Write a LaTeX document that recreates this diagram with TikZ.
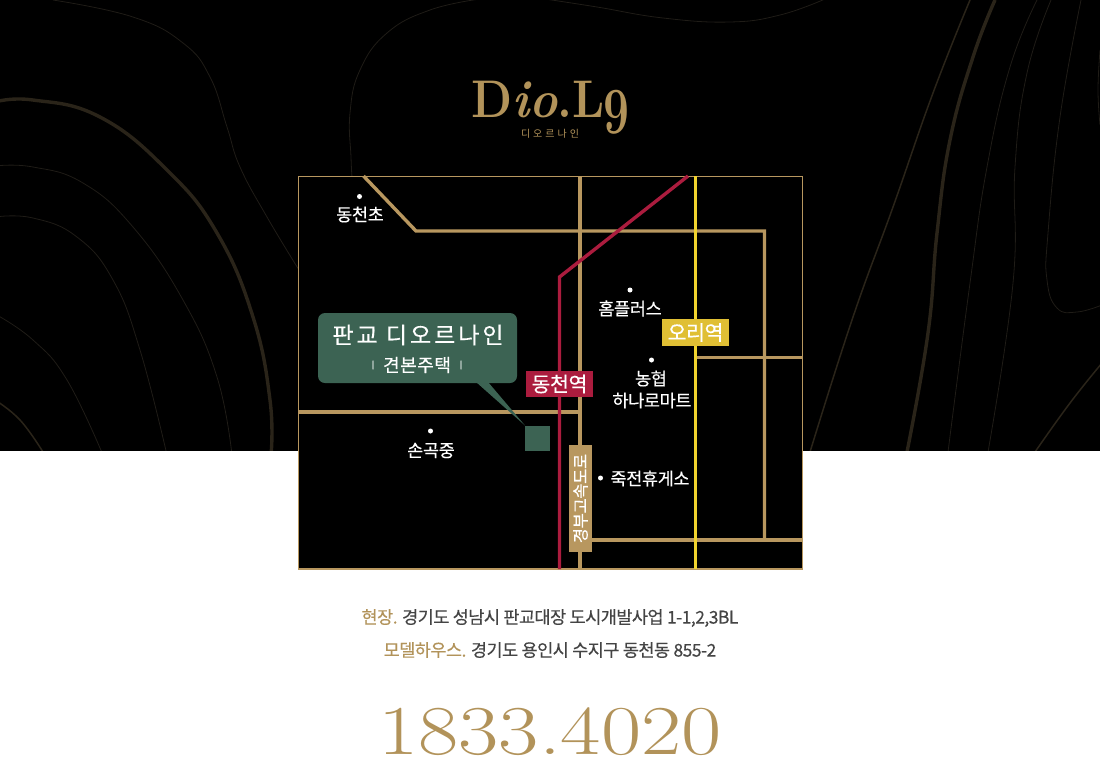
\documentclass[tikz,border=0pt]{standalone}
\usepackage{fontspec}
\usepackage{xcolor}
\usetikzlibrary{calc,positioning}
\newfontfamily\krfont[FakeBold=0.35]{Noto Sans CJK KR}
\newfontfamily\krwide[LetterSpace=13,FakeBold=0.3]{Noto Sans CJK KR}
\newfontfamily\krlogo[LetterSpace=30]{Noto Sans CJK KR}
\newfontfamily\krtight[LetterSpace=-2,FakeBold=0.35]{Noto Sans CJK KR}
\newfontfamily\kraddr[LetterSpace=-3,FakeBold=0.3]{Noto Sans CJK KR}
\definecolor{goldRoad}{HTML}{B8975F}
\definecolor{goldText}{HTML}{B2935A}
\definecolor{lineRed}{HTML}{AB1C3E}
\definecolor{lineYellow}{HTML}{F0D32E}
\definecolor{labelYellow}{HTML}{E0BF34}
\definecolor{siteGreen}{HTML}{3C6353}
\definecolor{contourDark}{HTML}{2A2419}
\definecolor{contourThin}{HTML}{1F1C17}
\definecolor{bodyGray}{HTML}{444444}
\tikzset{
  road/.style={goldRoad, line width=3.4pt},
  contour/.style={contourThin, line width=0.8pt, smooth, tension=0.75},
  contourwide/.style={contourDark, line width=3.4pt, smooth, tension=0.75},
  contourmid/.style={contourDark, line width=1.5pt, smooth, tension=0.75},
  poi/.style={text=white, font=\krtight\fontsize{17.5}{21}\selectfont, inner sep=0pt},
  dot/.style={circle, fill=white, inner sep=0pt, minimum size=5pt},
  stationbox/.style={text=white, font=\krtight\fontsize{20.5}{24}\selectfont, inner sep=0pt, minimum height=26.5pt},
  addr/.style={inner sep=0pt, font=\kraddr\fontsize{17.5}{21}\selectfont}
}
\begin{document}
\begin{tikzpicture}[x=1pt,y=-1pt]
    \useasboundingbox (0,0) rectangle (1100,766);
    \fill[white] (0,0) rectangle (1100,766);

    % contour lines behind the map
    \begin{scope}
        \clip (0,0) rectangle (1100,450.5);
        \fill[black] (0,0) rectangle (1100,451);
        \draw[contourwide] plot coordinates {(-5,102) (33,100) (100,117) (167,170) (217,233) (253,317) (270,400) (271,455)};
        \draw[contour] plot coordinates {(53,0) (133,17) (183,43) (210,77) (227,127) (240,167) (267,217) (299,270)};
        \draw[contour] plot coordinates {(-5,166) (33,167) (83,183) (133,227) (183,300) (217,377) (232,455)};
        \draw[contour] plot coordinates {(-5,217) (33,218) (77,237) (113,280) (140,350) (167,455)};
        \draw[contour] plot coordinates {(-5,314) (33,340) (67,380) (103,455)};
        \draw[contourmid] plot coordinates {(-5,400) (20,420) (43,452)};
        \draw[contour] plot coordinates {(480,-1) (430,10) (387,33) (360,70) (350,113) (351,157) (352,177)};
        \draw[contour] plot coordinates {(545,-1) (597,7) (663,18) (730,22) (780,15) (825,-1)};
        \draw[contourmid] plot coordinates {(970,0) (933,93) (893,207) (853,317) (810,452)};
        \draw[contourwide] plot coordinates {(995,0) (973,57) (950,140) (937,233) (928,333) (907,452)};
        \draw[contour] plot coordinates {(1037,0) (1010,67) (987,167) (970,283) (948,452)};
        \draw[contour] plot coordinates {(1051,0) (1027,73) (1015,167) (1013,283) (988,452)};
        \draw[contour] plot coordinates {(1081,0) (1060,117) (1048,233) (1047,280) (1057,308) (1077,312) (1102,305)};
        \draw[contourmid] plot coordinates {(1102,363) (1070,403) (1035,452)};
        \draw[contour] plot coordinates {(1100,50) (1098,90) (1100,125)};
    \end{scope}

    % logo
    \node[goldText, inner sep=0pt, anchor=base west, xscale=0.9, font=\bfseries\fontsize{53}{60}\selectfont] (logo) at (471,117)
        {D{\itshape io}.L};
    \node[goldText, inner sep=0pt, anchor=base east, xscale=0.7, font=\bfseries\fontsize{66}{70}\selectfont] (logonine) at (630,133) {9};
    \node[goldText, inner sep=0pt, font=\krlogo\fontsize{10}{12}\selectfont] (logosub) at (550,134) {디오르나인};

    % map frame
    \fill[black] (298.5,176) rectangle (802.5,569);
    \draw[goldRoad, line width=1pt] (298.5,176) rectangle (802.5,569);
    \draw[goldRoad, line width=2pt] (298.5,568.5) -- (802.5,568.5);

    % roads
    \draw[road, miter limit=10] (363.5,176) -- (416,231) -- (764.5,231) -- (764.5,540);
    \draw[road] (580,176) -- (580,569);
    \draw[road] (299,412) -- (580,412);
    \draw[road] (696,357.5) -- (802,357.5);
    \draw[road] (580,540) -- (802,540);
    \draw[lineRed, line width=3.4pt] (688,176) -- (559.5,277) -- (559.5,569);
    \draw[lineYellow, line width=3.4pt] (695.5,176) -- (695.5,569);

    % points of interest
    \node[dot] (d1) at (359.5,196.5) {};
    \node[poi] (p1) at (360,214.5) {동천초};
    \node[dot] (d2) at (630,290) {};
    \node[poi] (p2) at (630,308.5) {홈플러스};
    \node[dot] (d3) at (651.5,360) {};
    \node[poi] (p3) at (651,378.5) {농협};
    \node[poi] (p4) at (652,400.5) {하나로마트};
    \node[dot] (d5) at (430.5,431) {};
    \node[poi] (p5) at (431,450.5) {손곡중};
    \node[dot] (d6) at (600.5,478) {};
    \node[poi] (p6) at (650,478.5) {죽전휴게소};

    % station labels
    \node[stationbox, fill=lineRed, minimum width=67pt] (dongcheon) at (559.5,384) {동천역};
    \node[stationbox, fill=labelYellow, minimum width=67pt] (ori) at (695.5,332.5) {오리역};
    \node[fill=goldRoad, text=white, rotate=90, inner sep=0pt, minimum width=107pt, minimum height=23pt,
        font=\krtight\fontsize{16.5}{20}\selectfont] (highway) at (580.5,498.5) {경부고속도로};

    % site callout
    \node[fill=siteGreen, minimum size=25pt, inner sep=0pt] (site) at (537.5,438) {};
    \node[fill=siteGreen, rounded corners=7pt, minimum width=199pt, minimum height=70pt, inner sep=0pt] (callout) at (417.5,348) {};
    \fill[siteGreen] (476,382) -- (488,382) -- (site.north west) -- cycle;
    \node[text=white, inner sep=0pt, font=\krwide\fontsize{23}{26}\selectfont] (title) at (418,335) {판교 디오르나인};
    \node[text=white, inner sep=0pt, font=\krfont\fontsize{18}{20}\selectfont] (subtitle) at (417,365) {\addfontfeatures{LetterSpace=3}견본주택};
    \node[white, inner sep=0pt, font=\krfont\fontsize{8}{10}\selectfont] (barleft) at (373,365) {|};
    \node[white, inner sep=0pt, font=\krfont\fontsize{8}{10}\selectfont] (barright) at (461,365) {|};

    % address lines
    \node[addr, text=bodyGray] (addr1) at (550,618) {{\color{goldText}현장.} 경기도 성남시 판교대장 도시개발사업 1-1,2,3BL};
    \node[addr, text=bodyGray] (addr2) at (550,650) {{\color{goldText}모델하우스.} 경기도 용인시 수지구 동천동 855-2};

    % phone number
    \node[goldText, inner sep=0pt, anchor=base, xscale=1.25, font=\fontsize{70}{76}\selectfont\addfontfeatures{FakeBold=1.3}] (phone) at (550,754) {1833.4020};
\end{tikzpicture}
\end{document}
